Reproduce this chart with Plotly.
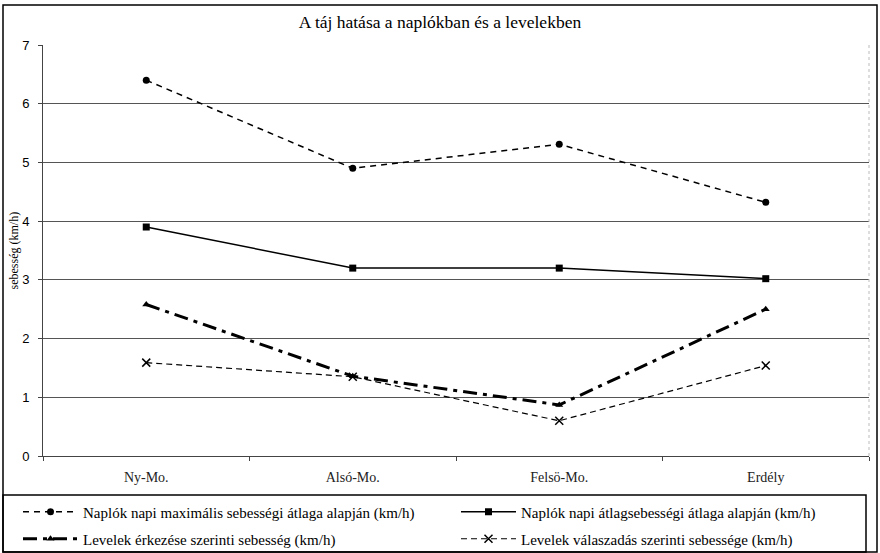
import plotly.graph_objects as go

categories = ["Ny-Mo.", "Alsó-Mo.", "Felsö-Mo.", "Erdély"]
max_speed = [6.4, 4.9, 5.31, 4.32]
avg_speed = [3.9, 3.2, 3.2, 3.02]
arrival_speed = [2.58, 1.36, 0.87, 2.5]
reply_speed = [1.59, 1.35, 0.6, 1.54]

names = [
    "Naplók napi maximális sebességi átlaga alapján (km/h)",
    "Naplók napi átlagsebességi átlaga alapján (km/h)",
    "Levelek érkezése szerinti sebesség (km/h)",
    "Levelek válaszadás szerinti sebessége (km/h)",
]
y_ticks = [0, 1, 2, 3, 4, 5, 6, 7]

SERIF = "'Liberation Serif', 'Times New Roman', serif"
SANS = "'Liberation Sans', Arial, sans-serif"

fig = go.Figure()
fig.add_trace(go.Scatter(x=categories, y=max_speed, name=names[0], mode="lines+markers",
                         legend="legend",
                         line=dict(color="black", width=1.5, dash="6px,5px"),
                         marker=dict(symbol="circle", size=7, color="black")))
fig.add_trace(go.Scatter(x=categories, y=avg_speed, name=names[1], mode="lines+markers",
                         legend="legend2",
                         line=dict(color="black", width=1.5),
                         marker=dict(symbol="square", size=7, color="black")))
fig.add_trace(go.Scatter(x=categories, y=arrival_speed, name=names[2], mode="lines+markers",
                         legend="legend3",
                         line=dict(color="black", width=3, dash="14px,6px,4px,6px"),
                         marker=dict(symbol="triangle-up", size=7, color="black")))
fig.add_trace(go.Scatter(x=categories, y=reply_speed, name=names[3], mode="lines+markers",
                         legend="legend4",
                         line=dict(color="black", width=1.2, dash="6px,4px"),
                         marker=dict(symbol="x-thin", size=8, color="black",
                                     line=dict(color="black", width=1.5))))

L, R, T, B = 43, 11, 45, 97
W, H = 880, 553
pw, ph = W - L - R, H - T - B

def px_x(px):
    return (px - L) / pw

def px_y(py):
    return (H - B - py) / ph

legend_common = dict(orientation="h", xanchor="left", yanchor="middle", borderwidth=0,
                     bgcolor="rgba(0,0,0,0)", itemwidth=55,
                     font=dict(family=SERIF, size=15, color="black"))

fig.update_layout(
    width=W, height=H,
    margin=dict(l=L, r=R, t=T, b=B, autoexpand=False),
    paper_bgcolor="white", plot_bgcolor="white",
    title=dict(text="A táj hatása a naplókban és a levelekben", x=px_x(456), xanchor="center",
               y=1 - 22 / H, yanchor="middle",
               font=dict(family=SERIF, size=17.5, color="black")),
    font=dict(family=SERIF, color="black"),
    xaxis=dict(type="category", range=[-0.5, 3.5], showgrid=False, showline=True,
               linecolor="#444", linewidth=1, ticks="outside", tickson="boundaries",
               ticklen=4, tickcolor="#444", automargin=False, ticklabelstandoff=8,
               tickfont=dict(family=SERIF, size=14, color="#222")),
    yaxis=dict(range=[0, 7], tickvals=y_ticks, showgrid=True, gridcolor="#555", gridwidth=1,
               showline=True, linecolor="#444", linewidth=1, ticks="outside", ticklen=4,
               tickcolor="#444", zeroline=False, automargin=False, ticklabelstandoff=6,
               tickfont=dict(family=SANS, size=13, color="black")),
    legend=dict(x=px_x(18), y=px_y(512), **legend_common),
    legend2=dict(x=px_x(456), y=px_y(512), **legend_common),
    legend3=dict(x=px_x(18), y=px_y(539), **legend_common),
    legend4=dict(x=px_x(456), y=px_y(539), **legend_common),
    showlegend=True,
)

fig.add_annotation(text="sebesség (km/h)", xref="paper", yref="paper",
                   x=px_x(13), y=0.5, xanchor="center", yanchor="middle",
                   textangle=-90, showarrow=False,
                   font=dict(family=SERIF, size=12, color="black"))

# outer chart border, legend box and faint right plot border
fig.add_shape(type="rect", xref="paper", yref="paper",
              x0=px_x(3), x1=px_x(877), y0=px_y(552), y1=px_y(5),
              line=dict(color="black", width=1.5), layer="below")
fig.add_shape(type="rect", xref="paper", yref="paper",
              x0=px_x(3), x1=px_x(866), y0=px_y(552), y1=px_y(495),
              line=dict(color="black", width=1.5), layer="below")
fig.add_shape(type="line", xref="paper", yref="paper",
              x0=1, x1=1, y0=0, y1=1, line=dict(color="#bbb", width=1, dash="dot"))

fig.write_html("out.html", config={"displayModeBar": False},
               post_script="document.body.style.margin='0';")
